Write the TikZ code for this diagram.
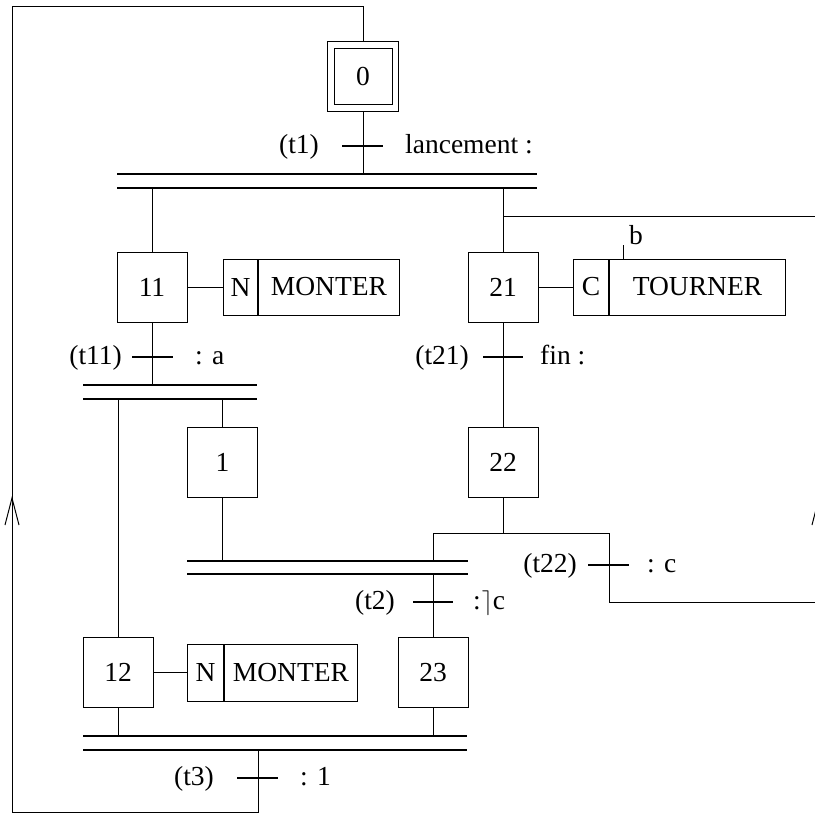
\documentclass[tikz,border=0pt]{standalone}
\usepackage{fontspec}
\setmainfont{Liberation Serif}
\begin{document}
\begin{tikzpicture}[x=1pt,y=-1pt,
  thin line/.style={line width=1pt},
  bar/.style={line width=2.2pt},
  tick/.style={line width=2pt},
  stepbox/.style={draw,line width=1pt,minimum width=70pt,minimum height=70pt,inner sep=0pt},
  actcell/.style={draw,line width=1pt,inner sep=0pt,anchor=west},
  lbl/.style={inner sep=0pt},
  every node/.style={font=\fontsize{27.5}{32}\selectfont}]
\useasboundingbox (0,0) rectangle (815,814);
\clip (0,0) rectangle (815,814);

% steps
\node[draw,line width=1pt,minimum width=71pt,minimum height=70pt,inner sep=0pt] (s0) at (363,76) {};
\node[draw,line width=1pt,minimum width=58pt,minimum height=56pt,inner sep=0pt] (s0i) at (s0.center) {0};
\node[stepbox] (s11) at (152,287) {11};
\node[stepbox] (s21) at (503,287) {21};
\node[stepbox] (s1) at (222.5,462) {1};
\node[stepbox] (s22) at (503,462) {22};
\node[stepbox] (s12) at (118,672.5) {12};
\node[stepbox] (s23) at (433,672.5) {23};

% actions
\node[actcell,minimum width=34pt,minimum height=56pt] (a11q) at (223,287) {N};
\node[actcell,minimum width=141pt,minimum height=56pt] (a11) at (a11q.east) {MONTER};
\node[actcell,minimum width=35pt,minimum height=56pt] (a21q) at (573,287) {C};
\node[actcell,minimum width=176pt,minimum height=56pt] (a21) at (a21q.east) {TOURNER};
\node[actcell,minimum width=36pt,minimum height=57pt] (a12q) at (187,672.5) {N};
\node[actcell,minimum width=133pt,minimum height=57pt] (a12) at (a12q.east) {MONTER};

\draw[thin line] (s11.east) -- (a11q.west);
\draw[thin line] (s21.east) -- (a21q.west);
\draw[thin line] (s12.east) -- (a12q.west);

% condition b
\coordinate (bt) at (623,245);
\coordinate (bb) at (623,259);
\draw[thin line] (bt) -- (bb);
\node[lbl,anchor=base west] (lb) at (629,244) {b};

% bars
\coordinate (b1a) at (117,174); \coordinate (b1b) at (537,174);
\coordinate (b1c) at (117,188); \coordinate (b1d) at (537,188);
\draw[bar] (b1a) -- (b1b); \draw[bar] (b1c) -- (b1d);
\coordinate (b2a) at (83,385); \coordinate (b2b) at (257,385);
\coordinate (b2c) at (83,399); \coordinate (b2d) at (257,399);
\draw[bar] (b2a) -- (b2b); \draw[bar] (b2c) -- (b2d);
\coordinate (b3a) at (187,561); \coordinate (b3b) at (468,561);
\coordinate (b3c) at (187,574); \coordinate (b3d) at (468,574);
\draw[bar] (b3a) -- (b3b); \draw[bar] (b3c) -- (b3d);
\coordinate (b4a) at (83,736); \coordinate (b4b) at (467,736);
\coordinate (b4c) at (83,750); \coordinate (b4d) at (467,750);
\draw[bar] (b4a) -- (b4b); \draw[bar] (b4c) -- (b4d);

% links
\coordinate (top1) at (363,6);
\coordinate (topL) at (12,6);
\coordinate (botL) at (12,812);
\coordinate (botR) at (258,812);
\draw[thin line] (s0.south) -- (363,174);
\draw[thin line] (258,750) -- (botR) -- (botL) -- (topL) -- (top1) -- (s0.north);
\draw[thin line] (152,188) -- (s11.north);
\draw[thin line] (503,188) -- (s21.north);
\coordinate (brA) at (503,216); \coordinate (brB) at (830,216);
\draw[thin line] (brA) -- (brB);
\draw[thin line] (s11.south) -- (152,385);
\draw[thin line] (118,399) -- (s12.north);
\draw[thin line] (222.5,399) -- (s1.north);
\draw[thin line] (s1.south) -- (222.5,561);
\draw[thin line] (s21.south) -- (s22.north);
\coordinate (j22) at (503,533);
\coordinate (jL) at (433,533);
\coordinate (jR) at (609,533);
\coordinate (jRd) at (609,602);
\coordinate (jRe) at (830,602);
\draw[thin line] (s22.south) -- (j22);
\draw[thin line] (jL) -- (jR) -- (jRd) -- (jRe);
\draw[thin line] (jL) -- (433,561);
\draw[thin line] (433,574) -- (s23.north);
\draw[thin line] (s12.south) -- (118,736);
\draw[thin line] (s23.south) -- (433,736);

% arrowheads on return lines
\coordinate (arL) at (12,498);
\draw[thin line] (5,525) -- (arL) -- (19,525);
\coordinate (arR) at (819,498);
\draw[thin line] (812,525) -- (arR) -- (826,525);

% transitions
\coordinate (t1) at (363,146);
\draw[tick] ([xshift=-21pt]t1) -- ([xshift=20pt]t1);
\node[lbl,anchor=base east] (t1l) at (319,153) {(t1)};
\node[lbl,anchor=base west] (t1r) at (405,153) {lancement :};

\coordinate (t11) at (152,357);
\draw[tick] ([xshift=-20pt]t11) -- ([xshift=21pt]t11);
\node[lbl,anchor=base east] (t11l) at (122,364) {(t11)};
\node[lbl,anchor=base west] (t11r) at (195,364) {: a};

\coordinate (t21) at (503,357);
\draw[tick] ([xshift=-20pt]t21) -- ([xshift=20pt]t21);
\node[lbl,anchor=base east] (t21l) at (469,364) {(t21)};
\node[lbl,anchor=base west] (t21r) at (540,364) {fin :};

\coordinate (t22) at (609,565);
\draw[tick] ([xshift=-21pt]t22) -- ([xshift=20pt]t22);
\node[lbl,anchor=base east] (t22l) at (577,572) {(t22)};
\node[lbl,anchor=base west] (t22r) at (647,572) {: c};

\coordinate (t2) at (433,602);
\draw[tick] ([xshift=-20pt]t2) -- ([xshift=20pt]t2);
\node[lbl,anchor=base east] (t2l) at (395,609) {(t2)};
\node[lbl,anchor=base west] (t2r) at (473,609) {:\kern1pt$\rceil$c};

\coordinate (t3) at (258,778);
\draw[tick] ([xshift=-21pt]t3) -- ([xshift=20pt]t3);
\node[lbl,anchor=base east] (t3l) at (214,785) {(t3)};
\node[lbl,anchor=base west] (t3r) at (300,785) {: 1};
\end{tikzpicture}
\end{document}
